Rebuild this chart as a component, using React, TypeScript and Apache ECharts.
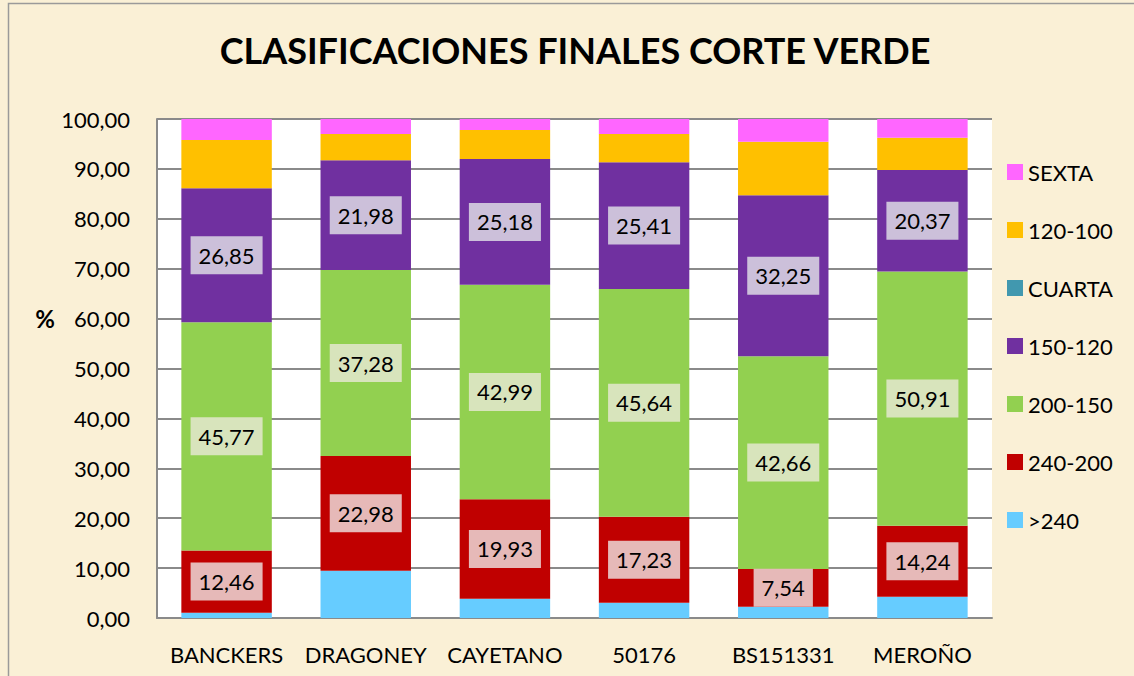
import React, { useEffect, useRef } from "react";
import * as echarts from "echarts";

const categories = ["BANCKERS", "DRAGONEY", "CAYETANO", "50176", "BS151331", "MEROÑO"];
const seriesNames = [">240", "240-200", "200-150", "150-120", "CUARTA", "120-100", "SEXTA"];
const over240 = [1.06, 9.48, 3.87, 3.07, 2.27, 4.27];
const r240_200 = [12.46, 22.98, 19.93, 17.23, 7.54, 14.24];
const r200_150 = [45.77, 37.28, 42.99, 45.64, 42.66, 50.91];
const r150_120 = [26.85, 21.98, 25.18, 25.41, 32.25, 20.37];
const cuarta = [0, 0, 0, 0, 0, 0];
const r120_100 = [9.66, 5.28, 5.83, 5.65, 10.73, 6.46];
const sexta = [4.2, 3.0, 2.2, 3.0, 4.55, 3.75];
const yTicks = { min: 0, max: 100, interval: 10 };

const FONT = "Lato";

export default function App() {
  const ref = useRef<HTMLDivElement>(null);
  useEffect(() => {
    if (!ref.current) return;
    const chart = echarts.init(ref.current, null, { renderer: "svg" });
    const fmt = (v: number) => v.toFixed(2).replace(".", ",");
    const colors = ["#66ccff", "#c00000", "#92d050", "#7030a0", "#4198af", "#ffc000", "#ff66ff"];
    const labelBg: Record<number, string> = { 1: "#e6b9b8", 2: "#d8e4bc", 3: "#ccc0da" };
    const datas = [over240, r240_200, r200_150, r150_120, cuarta, r120_100, sexta];
    const series = seriesNames.map((name, i) => ({
      name,
      type: "bar",
      stack: "total",
      barCategoryGap: "35%",
      data: datas[i],
      itemStyle: { color: colors[i] },
      label: labelBg[i]
        ? {
            show: true,
            position: "inside",
            formatter: (p: any) => fmt(p.value),
            backgroundColor: labelBg[i],
            padding: [9, 8, 7, 8],
            color: "#000",
            fontFamily: FONT,
            fontSize: 22,
          }
        : { show: false },
    }));
    chart.setOption({
      animation: false,
      backgroundColor: "#faf0d6",
      textStyle: { fontFamily: FONT },
      graphic: [
        {
          type: "rect",
          shape: { x: 8.5, y: 3.5, width: 1140, height: 700 },
          style: { fill: "none", stroke: "#9a9a9a", lineWidth: 1.5 },
          silent: true,
        },
        {
          type: "text",
          x: 575,
          y: 50,
          style: {
            text: "CLASIFICACIONES FINALES CORTE VERDE",
            fontFamily: FONT,
            fontWeight: "bold",
            fontSize: 36,
            fill: "#000",
            textAlign: "center",
            textVerticalAlign: "middle",
          },
        },
        {
          type: "text",
          x: 45,
          y: 318,
          style: {
            text: "%",
            fontFamily: FONT,
            fontWeight: "bold",
            fontSize: 24,
            fill: "#000",
            textAlign: "center",
            textVerticalAlign: "middle",
          },
        },
      ],
      grid: {
        left: 157,
        right: 142,
        top: 119,
        bottom: 58,
        show: true,
        backgroundColor: "#ffffff",
        borderWidth: 0,
      },
      legend: {
        orient: "vertical",
        left: 1007,
        top: 161,
        data: [...seriesNames].reverse(),
        icon: "rect",
        itemWidth: 16,
        itemHeight: 16,
        itemGap: 36,
        padding: 0,
        textStyle: { fontFamily: FONT, fontSize: 22, color: "#000", lineHeight: 22 },
      },
      xAxis: {
        type: "category",
        data: categories,
        axisLine: { show: true, lineStyle: { color: "#8a8a8a", width: 2 } },
        axisTick: { show: false },
        axisLabel: { color: "#000", fontFamily: FONT, fontSize: 22, margin: 25, interval: 0 },
      },
      yAxis: {
        type: "value",
        min: yTicks.min,
        max: yTicks.max,
        interval: yTicks.interval,
        axisLine: { show: true, lineStyle: { color: "#8a8a8a", width: 2 } },
        axisTick: { show: false },
        splitLine: { show: true, lineStyle: { color: "#8a8a8a", width: 2 } },
        axisLabel: {
          color: "#000",
          fontFamily: FONT,
          fontSize: 22,
          margin: 27,
          formatter: (v: number) => fmt(v),
        },
      },
      series,
    });
    return () => chart.dispose();
  }, []);
  return (
    <div
      ref={ref}
      style={{ position: "fixed", left: 0, top: 0, width: 1134, height: 676 }}
    />
  );
}
